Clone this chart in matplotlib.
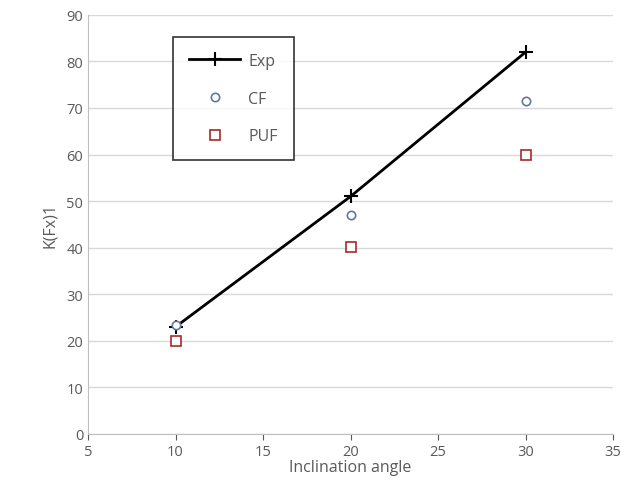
import matplotlib
matplotlib.use("Agg")
import matplotlib.pyplot as plt

# data
angles = [10, 20, 30]
exp_vals = [23, 51, 82]
cf_vals = [23.3, 47, 71.5]
puf_vals = [20, 40.2, 60]

plt.rcParams['font.family'] = ['Open Sans', 'DejaVu Sans']
txt = '#595959'

fig = plt.figure(figsize=(6.4, 5.02), dpi=100)
ax = fig.add_axes([0.1375, 0.1335, 0.8205, 0.835])

ax.plot(angles, exp_vals, color='black', lw=2, marker='+', ms=10, mew=1.5, label='Exp', zorder=3)
ax.plot(angles, cf_vals, ls='none', marker='o', ms=6, mfc='white', mec='#5b7c99', mew=1.2, label='CF', zorder=4)
ax.plot(angles, puf_vals, ls='none', marker='s', ms=7, mfc='white', mec='#a52a2a', mew=1.2, label='PUF', zorder=4)

ax.set_xlim(5, 35)
ax.set_ylim(0, 90)
ax.set_xticks(range(5, 40, 5))
ax.set_yticks(range(0, 100, 10))
ax.grid(axis='y', color='#d9d9d9', lw=1)
ax.set_axisbelow(True)
for s in ['top', 'right']:
    ax.spines[s].set_visible(False)
for s in ['left', 'bottom']:
    ax.spines[s].set_color('#bfbfbf')
ax.tick_params(colors=txt, labelsize=10.5, length=4)
ax.tick_params(axis='y', length=0)
ax.set_xlabel('Inclination angle', color=txt, fontsize=11.5, labelpad=0)
ax.set_ylabel('K(Fx)1', color=txt, fontsize=11.5, labelpad=6)

leg = ax.legend(loc='upper left', bbox_to_anchor=(0.162, 0.947), borderaxespad=0,
                frameon=True, fancybox=False, edgecolor='black', fontsize=11.5,
                labelspacing=1.35, handlelength=3.2, borderpad=1.0, handletextpad=0.5)
leg.get_frame().set_linewidth(1.2)
for t in leg.get_texts():
    t.set_color(txt)

fig.savefig('out.png', dpi=100)
